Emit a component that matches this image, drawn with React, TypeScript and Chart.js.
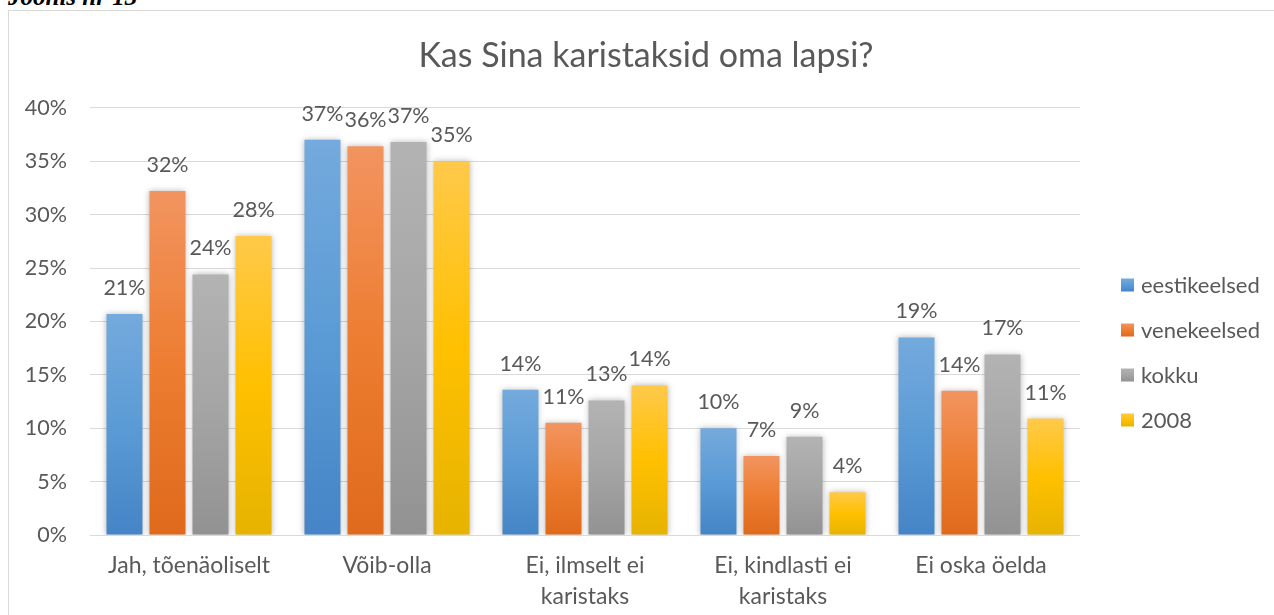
import React, { useEffect, useRef } from 'react';
import { Chart, registerables } from 'chart.js';

Chart.register(...registerables);

// ---- data ----
const categories: (string | string[])[] = [
  'Jah, tõenäoliselt',
  'Võib-olla',
  ['Ei, ilmselt ei', 'karistaks'],
  ['Ei, kindlasti ei', 'karistaks'],
  'Ei oska öelda',
];
const seriesNames = ['eestikeelsed', 'venekeelsed', 'kokku', '2008'];
const eestikeelsed = [20.7, 37.0, 13.6, 10.0, 18.5];
const venekeelsed = [32.2, 36.4, 10.5, 7.4, 13.5];
const kokku = [24.4, 36.8, 12.6, 9.2, 16.9];
const aasta2008 = [28.0, 35.0, 14.0, 4.0, 10.9];
const seriesValues = [eestikeelsed, venekeelsed, kokku, aasta2008];
const titleText = 'Kas Sina karistaksid oma lapsi?';
const captionText = 'Joonis nr 13';

// gradient stops: top, middle, bottom
const palette = [
  ['#74AADD', '#5B9BD5', '#4584C6'],
  ['#F29460', '#ED7D31', '#DF6A1C'],
  ['#B3B3B3', '#A5A5A5', '#929292'],
  ['#FFC94A', '#FFC000', '#E6B300'],
];

const FONT = 'Lato';
const TEXT = '#595959';

function grad(ctx: CanvasRenderingContext2D, y0: number, y1: number, c: string[]) {
  const g = ctx.createLinearGradient(0, y0, 0, y1);
  g.addColorStop(0, c[0]);
  g.addColorStop(0.5, c[1]);
  g.addColorStop(1, c[2]);
  return g;
}

const barDecor = {
  id: 'barDecor',
  beforeDatasetsDraw(chart: any) {
    const ctx = chart.ctx;
    ctx.save();
    ctx.shadowColor = 'rgba(0,0,0,0.28)';
    ctx.shadowBlur = 6;
    ctx.shadowOffsetX = 0;
    ctx.shadowOffsetY = 0;
  },
  afterDatasetsDraw(chart: any) {
    const ctx = chart.ctx;
    ctx.restore();
    ctx.save();
    ctx.font = `21.5px ${FONT}`;
    ctx.fillStyle = TEXT;
    ctx.textAlign = 'center';
    ctx.textBaseline = 'middle';
    chart.data.datasets.forEach((ds: any, i: number) => {
      const meta = chart.getDatasetMeta(i);
      meta.data.forEach((el: any, j: number) => {
        const v = ds.data[j] as number;
        ctx.fillText(`${Math.round(v)}%`, el.x, el.y - 26);
      });
    });
    ctx.restore();
  },
};

const customLegend = {
  id: 'customLegend',
  afterDraw(chart: any) {
    const ctx = chart.ctx;
    ctx.save();
    ctx.font = `22px ${FONT}`;
    ctx.textAlign = 'left';
    ctx.textBaseline = 'middle';
    chart.data.datasets.forEach((ds: any, i: number) => {
      const y = 285 + i * 45;
      ctx.fillStyle = grad(ctx, y - 6.5, y + 6.5, palette[i]);
      ctx.fillRect(1121, y - 6.5, 13, 13);
      ctx.fillStyle = TEXT;
      ctx.fillText(ds.label, 1141, y + 1);
    });
    ctx.restore();
  },
};

export default function App() {
  const ref = useRef<HTMLCanvasElement>(null);

  useEffect(() => {
    document.body.style.margin = '0';
    const canvas = ref.current!;
    const chart = new Chart(canvas, {
      type: 'bar',
      data: {
        labels: categories,
        datasets: seriesNames.map((name, i) => ({
          label: name,
          data: seriesValues[i],
          yAxisID: 'y',
          categoryPercentage: 0.869,
          barPercentage: 0.837,
          borderWidth: 0,
          backgroundColor: (c: any) => {
            const ch = c.chart;
            const ys = ch.scales?.y;
            if (!ys || c.type !== 'data') return palette[i][1];
            const top = ys.getPixelForValue(c.raw as number);
            const base = ys.getPixelForValue(0);
            if (!isFinite(top) || !isFinite(base) || top === base) return palette[i][1];
            return grad(ch.ctx, top, base, palette[i]);
          },
        })),
      },
      options: {
        responsive: false,
        animation: false,
        events: [],
        layout: { padding: { left: 18, right: 0, top: 0, bottom: 0 } },
        plugins: {
          legend: { display: false },
          tooltip: { enabled: false },
          title: {
            display: true,
            text: titleText,
            color: TEXT,
            font: { family: FONT, size: 34, weight: 'normal', lineHeight: 1.2 },
            padding: { top: 36, bottom: 31 },
          },
        },
        scales: {
          x: {
            grid: { display: false, drawTicks: false },
            border: { display: false },
            ticks: {
              color: TEXT,
              font: { family: FONT, size: 23, lineHeight: 1.348 },
              padding: 15,
              maxRotation: 0,
              autoSkip: false,
            },
            afterFit: (s: any) => {
              s.height = 80;
            },
          },
          y: {
            min: 0,
            max: 40,
            position: 'left',
            grid: { color: '#D9D9D9', lineWidth: 1, drawTicks: false },
            border: { display: false },
            ticks: {
              stepSize: 5,
              color: TEXT,
              font: { family: FONT, size: 21.5 },
              padding: 23,
              callback: (v: any) => `${v}%`,
            },
            afterFit: (s: any) => {
              s.width = 72;
            },
          },
          yLegendSpace: {
            type: 'linear',
            position: 'right',
            display: true,
            grid: { display: false, drawTicks: false },
            border: { display: false },
            ticks: { display: false },
            afterFit: (s: any) => {
              s.width = 194;
            },
          },
        },
      },
      plugins: [barDecor, customLegend],
    } as any);
    return () => chart.destroy();
  }, []);

  return (
    <div style={{ position: 'relative', width: 1274, height: 615, overflow: 'hidden', background: '#fff' }}>
      <div
        style={{
          position: 'absolute',
          left: 8,
          top: -15,
          font: 'italic bold 25px "Liberation Serif"',
          lineHeight: '24px',
          whiteSpace: 'nowrap',
          color: '#000',
        }}
      >
        {captionText}
      </div>
      <div
        style={{
          position: 'absolute',
          left: 8,
          top: 10,
          width: 1400,
          height: 800,
          border: '1px solid #D9D9D9',
          boxSizing: 'border-box',
        }}
      />
      <canvas
        ref={ref}
        width={1274}
        height={615}
        style={{ position: 'absolute', left: 0, top: 0, width: 1274, height: 615 }}
      />
    </div>
  );
}
